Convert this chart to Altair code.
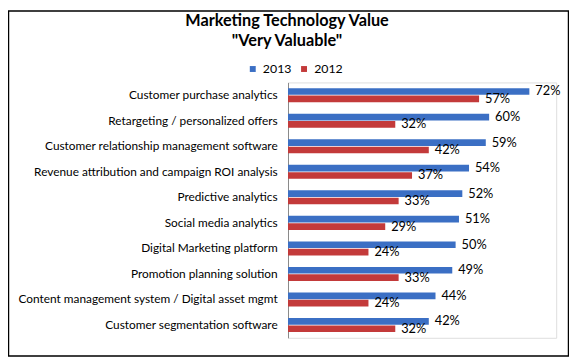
import altair as alt
import pandas as pd

title_lines = ["Marketing Technology Value", "\"Very Valuable\""]
categories = [
    "Customer purchase analytics",
    "Retargeting / personalized offers",
    "Customer relationship management software",
    "Revenue attribution and campaign ROI analysis",
    "Predictive analytics",
    "Social media analytics",
    "Digital Marketing platform",
    "Promotion planning solution",
    "Content management system / Digital asset mgmt",
    "Customer segmentation software",
]
values_2013 = [72, 60, 59, 54, 52, 51, 50, 49, 44, 42]
values_2012 = [57, 32, 42, 37, 33, 29, 24, 33, 24, 32]
years = ["2013", "2012"]
colors = ["#3b6fc4", "#c33a3a"]

rows = []
for c, a, b in zip(categories, values_2013, values_2012):
    rows.append({"cat": c, "year": "2013", "v": a, "lbl": f"{a}%"})
    rows.append({"cat": c, "year": "2012", "v": b, "lbl": f"{b}%"})
df = pd.DataFrame(rows)

FONT = "Lato"
PL = 284
PW, PH = 272, 259

y_enc = alt.Y("cat:N", sort=categories, title=None,
              scale=alt.Scale(paddingInner=0.45, paddingOuter=0.225),
              axis=alt.Axis(ticks=False, labelPadding=11, labelFontSize=12,
                            labelFont=FONT, labelColor="#000000",
                            domainColor="#888888", labelLimit=400, grid=False))
x_enc = alt.X("v:Q", title=None, scale=alt.Scale(domain=[0, 80]), axis=None)
yoff = alt.YOffset("year:N", sort=years, scale=alt.Scale(paddingInner=0.1))
color = alt.Color("year:N", sort=years,
                  scale=alt.Scale(domain=years, range=colors),
                  legend=alt.Legend(orient="none", direction="horizontal",
                                    legendX=-42, legendY=-20, title=None,
                                    symbolType="square", symbolSize=36,
                                    labelFont=FONT, labelFontSize=12.5,
                                    symbolStrokeWidth=0, columnPadding=6,
                                    labelOffset=4))

bars = alt.Chart(df).mark_bar(cornerRadius=0).encode(
    y=y_enc, x=x_enc, yOffset=yoff, color=color)

labels = alt.Chart(df).mark_text(align="left", baseline="middle", dx=6,
                                 font=FONT, fontSize=13, color="#000000").encode(
    y=alt.Y("cat:N", sort=categories), x="v:Q", yOffset=yoff, text="lbl:N")

title_df = pd.DataFrame({"t": ["\n".join(title_lines)]})
title = alt.Chart(title_df).mark_text(
    align="center", baseline="top", lineBreak="\n", lineHeight=20,
    font=FONT, fontSize=16.5, fontWeight="bold", color="#000000").encode(
    x=alt.value(-1), y=alt.value(-70), text="t:N")

border_df = pd.DataFrame({"d": [0]})
border = alt.Chart(border_df).mark_rect(fillOpacity=0, stroke="#000000",
                                        strokeWidth=1.5).encode(
    x=alt.value(-PL + 0.5), x2=alt.value(569 - PL - 0.5),
    y=alt.value(-72.5), y2=alt.value(PH + 18.5))

chart = alt.layer(bars, labels, title, border).properties(
    width=PW, height=PH,
    autosize=alt.AutoSizeParams(type="none"),
    padding={"left": PL, "top": 73, "right": 569 - PL - PW, "bottom": 19},
).configure_view(stroke=None).configure(background="#ffffff")

chart.save("out.html", embed_options={"renderer": "svg", "actions": False})
